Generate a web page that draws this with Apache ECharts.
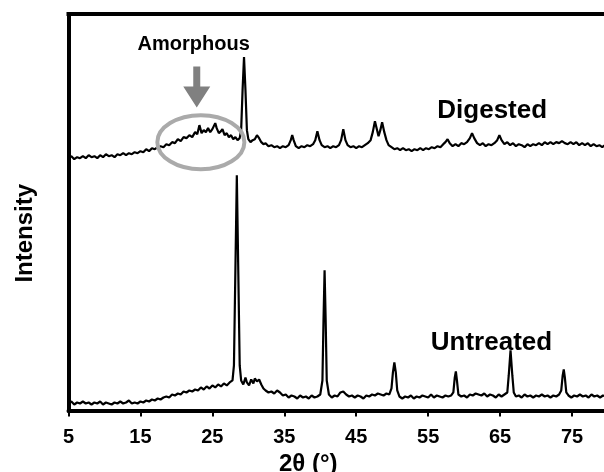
<!DOCTYPE html>
<html>
<head>
<meta charset="utf-8">
<script src="https://cdn.jsdelivr.net/npm/echarts@6/dist/echarts.min.js"></script>
<style>
html,body{margin:0;padding:0;background:#fff;}
#chart{width:604px;height:472px;}
</style>
</head>
<body>
<div id="chart"></div>
<script>
// x-axis tick labels (2θ, degrees)
const tickValues = [5, 15, 25, 35, 45, 55, 65, 75];

// Untreated pattern: [2θ, intensity (a.u.)]
const untreated = [
[5.0,7],[5.4,9],[5.8,6],[6.2,8],[6.6,7],[7.0,9],[7.4,7],[7.8,8],[8.2,6],[8.6,8],[9.0,7],[9.4,9],[9.8,6],[10.2,8],[10.6,7],[11.0,6],[11.4,8],[11.8,7],[12.2,9],[12.6,7],[13.0,8],[13.4,10],[13.8,7],[14.2,8],[14.6,7],[15.0,9],[15.4,8],[15.8,10],[16.2,9],[16.6,11],[17.0,10],[17.4,12],[17.8,11],[18.2,13],[18.6,14],[19.0,13],[19.4,16],[19.8,15],[20.2,17],[20.6,16],[21.0,19],[21.4,18],[21.8,20],[22.2,19],[22.6,21],[23.0,20],[23.4,23],[23.8,21],[24.2,24],[24.6,22],[25.0,25],[25.4,23],[25.8,26],[26.2,24],[26.6,27],[27.0,25],[27.4,28],[27.8,30],[28.0,45],[28.2,140],[28.4,235],[28.6,140],[28.8,45],[29.0,30],[29.3,26],[29.6,33],[29.8,28],[30.1,25],[30.4,31],[30.7,27],[30.9,32],[31.2,29],[31.5,31],[31.8,26],[32.1,22],[32.4,20],[32.8,18],[33.2,19],[33.6,17],[34.0,20],[34.4,18],[34.8,15],[35.2,16],[35.6,13],[36.0,15],[36.4,14],[36.8,12],[37.2,15],[37.6,13],[38.0,14],[38.4,12],[38.8,15],[39.2,13],[39.6,14],[40.0,16],[40.3,30],[40.45,90],[40.6,140],[40.75,90],[40.9,30],[41.2,16],[41.6,13],[42.0,15],[42.4,14],[42.8,18],[43.2,19],[43.6,16],[44.0,14],[44.4,15],[44.8,13],[45.2,15],[45.6,14],[46.0,12],[46.4,15],[46.8,14],[47.2,16],[47.6,15],[48.0,17],[48.4,16],[48.8,15],[49.2,17],[49.6,16],[49.9,22],[50.1,38],[50.3,48],[50.5,38],[50.7,20],[51.0,14],[51.4,12],[51.8,14],[52.2,13],[52.6,15],[53.0,12],[53.4,14],[53.8,13],[54.2,15],[54.6,14],[55.0,13],[55.4,16],[55.8,13],[56.2,15],[56.6,14],[57.0,13],[57.4,15],[57.8,14],[58.2,15],[58.5,18],[58.7,33],[58.85,39],[59.0,30],[59.2,16],[59.6,14],[60.0,15],[60.4,13],[60.8,16],[61.2,15],[61.6,17],[62.0,16],[62.4,15],[62.8,17],[63.2,14],[63.6,16],[64.0,15],[64.4,13],[64.8,16],[65.2,14],[65.6,16],[66.0,18],[66.2,35],[66.45,60],[66.7,35],[66.9,18],[67.2,14],[67.6,15],[68.0,13],[68.4,16],[68.8,14],[69.2,15],[69.6,13],[70.0,15],[70.4,14],[70.8,16],[71.2,14],[71.6,15],[72.0,13],[72.4,15],[72.8,14],[73.2,16],[73.5,20],[73.7,35],[73.85,41],[74.0,33],[74.2,18],[74.5,15],[74.9,13],[75.3,15],[75.7,14],[76.1,16],[76.5,14],[76.9,15],[77.3,13],[77.7,16],[78.1,14],[78.5,15],[78.9,13],[79.3,15],[79.7,14],[80.0,15]
];

// Digested pattern: [2θ, intensity (a.u.)]
const digested = [
[5.0,252],[5.4,254],[5.8,251],[6.2,253],[6.6,252],[7.0,254],[7.4,252],[7.8,255],[8.2,253],[8.6,254],[9.0,252],[9.4,255],[9.8,253],[10.2,256],[10.6,254],[11.0,255],[11.4,253],[11.8,256],[12.2,255],[12.6,257],[13.0,255],[13.4,257],[13.8,256],[14.2,258],[14.6,257],[15.0,259],[15.4,258],[15.8,261],[16.2,259],[16.6,262],[17.0,261],[17.4,263],[17.8,264],[18.2,263],[18.6,266],[19.0,265],[19.4,268],[19.8,267],[20.2,271],[20.6,269],[21.0,273],[21.4,272],[21.8,275],[22.2,273],[22.6,278],[22.9,276],[23.2,285],[23.5,277],[23.8,280],[24.1,278],[24.4,282],[24.7,278],[25.0,281],[25.2,284],[25.4,287],[25.6,282],[25.9,277],[26.2,279],[26.4,281],[26.7,275],[27.0,277],[27.3,273],[27.6,275],[27.9,271],[28.2,273],[28.5,270],[28.8,272],[29.0,280],[29.2,320],[29.4,353],[29.6,320],[29.8,280],[30.0,271],[30.3,268],[30.6,270],[30.9,271],[31.2,275],[31.5,272],[31.8,268],[32.1,266],[32.4,267],[32.8,264],[33.2,265],[33.6,263],[34.0,264],[34.4,262],[34.8,264],[35.2,263],[35.6,265],[35.9,270],[36.1,275],[36.3,270],[36.6,264],[37.0,262],[37.4,264],[37.8,263],[38.2,265],[38.6,264],[39.0,266],[39.3,270],[39.6,279],[39.9,270],[40.2,265],[40.6,263],[41.0,264],[41.4,262],[41.8,264],[42.2,263],[42.6,265],[42.9,270],[43.2,281],[43.5,270],[43.8,265],[44.2,263],[44.6,264],[45.0,262],[45.4,264],[45.8,263],[46.2,265],[46.6,267],[47.0,270],[47.3,278],[47.6,289],[47.9,280],[48.1,274],[48.35,280],[48.6,288],[48.9,278],[49.2,270],[49.5,265],[49.9,263],[50.3,261],[50.7,262],[51.1,260],[51.5,262],[51.9,260],[52.3,261],[52.7,259],[53.1,261],[53.5,260],[53.9,262],[54.3,260],[54.7,262],[55.1,261],[55.5,263],[55.9,262],[56.3,264],[56.7,263],[57.1,266],[57.4,268],[57.7,271],[58.0,267],[58.4,264],[58.8,266],[59.2,264],[59.6,267],[60.0,266],[60.4,268],[60.8,272],[61.1,277],[61.4,272],[61.8,267],[62.2,265],[62.6,267],[63.0,264],[63.4,266],[63.8,265],[64.2,267],[64.6,270],[64.9,275],[65.2,270],[65.6,266],[66.0,268],[66.4,265],[66.8,267],[67.2,264],[67.6,266],[68.0,265],[68.4,263],[68.8,266],[69.2,264],[69.6,266],[70.0,265],[70.4,267],[70.8,265],[71.2,268],[71.6,266],[72.0,268],[72.4,266],[72.8,268],[73.2,267],[73.6,269],[74.0,267],[74.4,266],[74.8,268],[75.2,266],[75.6,268],[76.0,265],[76.4,267],[76.8,265],[77.2,267],[77.6,264],[78.0,266],[78.4,264],[78.8,265],[79.2,263],[79.6,265],[80.0,263]
];

// Annotation anchors in data coordinates
const seriesLabels = [
  {text: 'Digested', at: [63.9, 299], size: 26},
  {text: 'Untreated', at: [63.8, 68], size: 26},
  {text: 'Amorphous', at: [22.4, 366], size: 20}
];
const amorphousEllipse = {center: [23.4, 268], rx: 6.05, ry: 27};
const amorphousArrow = {x: 22.83, top: 343.5, tip: 302.5};

const FONT = 'Arial, "Liberation Sans", sans-serif';
const chart = echarts.init(document.getElementById('chart'), null, {renderer: 'canvas'});

const option = {
  animation: false,
  backgroundColor: '#fff',
  grid: {left: 68.5, right: -4, top: 14, bottom: 61.5, containLabel: false, outerBoundsMode: 'none'},
  xAxis: [{
    type: 'value', min: 5, max: 80, position: 'bottom',
    name: '2θ (°)', nameLocation: 'middle', nameGap: 36,
    nameTextStyle: {fontFamily: FONT, fontWeight: 'bold', fontSize: 24, color: '#000', padding: [0, 60, 0, 0]},
    axisLine: {show: true, lineStyle: {color: '#000', width: 4}},
    axisTick: {show: true, customValues: tickValues, length: 6, lineStyle: {color: '#000', width: 2}},
    axisLabel: {show: true, customValues: tickValues, margin: 17, fontFamily: FONT, fontWeight: 'bold', fontSize: 20, color: '#000'},
    splitLine: {show: false}
  }, {
    type: 'value', min: 5, max: 80, position: 'top',
    axisLine: {show: true, onZero: false, lineStyle: {color: '#000', width: 4, cap: 'square'}},
    axisTick: {show: false}, axisLabel: {show: false}, splitLine: {show: false}
  }],
  yAxis: {
    type: 'value', min: 0, max: 396,
    name: 'Intensity', nameLocation: 'middle', nameGap: 31,
    nameTextStyle: {fontFamily: FONT, fontWeight: 'bold', fontSize: 24, color: '#000', padding: [0, 42, 0, 0]},
    axisLine: {show: true, lineStyle: {color: '#000', width: 4, cap: 'square'}},
    axisTick: {show: false}, axisLabel: {show: false}, splitLine: {show: false}
  },
  series: [{
    name: 'Untreated', type: 'line', data: untreated, showSymbol: false,
    lineStyle: {color: '#000', width: 2.2}, xAxisIndex: 0
  }, {
    name: 'Digested', type: 'line', data: digested, showSymbol: false,
    lineStyle: {color: '#000', width: 2.2}, xAxisIndex: 0
  }]
};
chart.setOption(option);

function px(pt) { return chart.convertToPixel({xAxisIndex: 0, yAxisIndex: 0}, pt); }

const graphics = [];
const c = px(amorphousEllipse.center);
const cr = px([amorphousEllipse.center[0] + amorphousEllipse.rx, amorphousEllipse.center[1] + amorphousEllipse.ry]);
graphics.push({
  type: 'ellipse', shape: {cx: c[0], cy: c[1], rx: cr[0] - c[0], ry: c[1] - cr[1]},
  style: {fill: 'none', stroke: '#aaaaaa', lineWidth: 4}, z: 10
});
const aTop = px([amorphousArrow.x, amorphousArrow.top]);
const aTip = px([amorphousArrow.x, amorphousArrow.tip]);
const headH = 21, headW = 13.5, shaftW = 3.5;
graphics.push({
  type: 'polygon',
  shape: {points: [
    [aTop[0] - shaftW, aTop[1]], [aTop[0] + shaftW, aTop[1]],
    [aTop[0] + shaftW, aTip[1] - headH], [aTop[0] + headW, aTip[1] - headH],
    [aTip[0], aTip[1]],
    [aTop[0] - headW, aTip[1] - headH], [aTop[0] - shaftW, aTip[1] - headH]
  ]},
  style: {fill: '#808080'}, z: 10
});
seriesLabels.forEach(l => {
  const p = px(l.at);
  graphics.push({
    type: 'text', x: p[0], y: p[1], z: 11,
    style: {text: l.text, fontFamily: FONT, fontWeight: 'bold', fontSize: l.size, fill: '#000', align: 'center', verticalAlign: 'middle'}
  });
});
chart.setOption({graphic: graphics});
</script>
</body>
</html>
